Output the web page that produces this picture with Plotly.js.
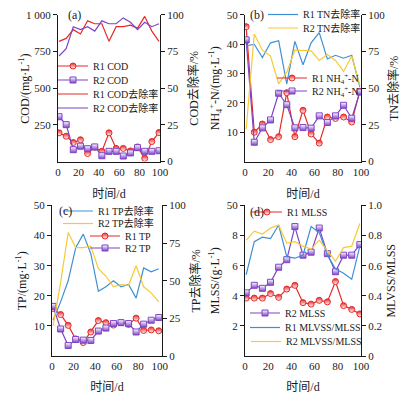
<!DOCTYPE html>
<html><head><meta charset="utf-8">
<script src="https://cdn.plot.ly/plotly-3.0.1.min.js"></script>
<style>html,body{margin:0;padding:0;background:#fff}#chart{width:415px;height:394px}</style>
</head><body><div id="chart"></div>
<script>
// ---- data ----
const days = [1, 8, 15, 22, 29, 36, 43, 50, 57, 64, 71, 78, 85, 92, 99];
// (a)
const r1Cod = [196, 173, 130, 149, 55, 98, 70, 196, 90, 90, 73, 100, 22, 137, 198];
const r2Cod = [306, 252, 81, 105, 88, 100, 40, 70, 70, 38, 59, 95, 70, 70, 74];
const r1CodRem = [82, 84, 90, 87, 96, 94, 94, 82, 92, 92, 93, 91, 99, 89, 82];
const r2CodRem = [72, 77, 92, 90, 92, 89, 96, 94, 94, 98, 95, 90, 95, 92, 94];
// (b)
const r1Nh4 = [46, 10, 12.8, 7.5, 8.5, 23.5, 8.5, 17.5, 9.4, 6.3, 15.2, 14.7, 15.2, 13.5, 24];
const r2Nh4 = [41.5, 6.6, 11.5, 14.2, 23.3, 19.4, 11.5, 11.6, 11.4, 15.6, 13.3, 15.6, 19.2, 14.8, 23.7];
const r1TnRem = [79, 80, 71, 81, 82.5, 53, 82, 66, 81, 88, 70, 72.5, 70.5, 72.5, 51];
const r2TnRem = [22, 87, 76, 72, 53, 61, 76, 76, 75.5, 69, 73, 69, 61.5, 72, 52];
// (c)
const r1Tp = [15.8, 13.8, 10.2, 5.7, 4.5, 8, 11.8, 11.1, 10.3, 11.1, 10.5, 12.6, 8.5, 8.7, 8.4];
const r2Tp = [16.5, 9, 3.5, 5.5, 5.3, 5.2, 8.3, 9.3, 10.8, 11.1, 10.8, 8, 10.6, 11.9, 12.8];
const r1TpRem = [24, 36, 50, 72, 81, 68, 43, 46, 50, 46, 47.5, 38.5, 58.5, 56, 58];
const r2TpRem = [20, 49, 82, 72, 72, 73, 58, 53, 46, 47.5, 47, 60, 46, 42, 36];
// (d)
const r1Mlss = [3.85, 3.85, 3.85, 4.15, 3.9, 4.45, 4.7, 3.55, 3.45, 3.7, 3.6, 4.95, 3.35, 3.1, 2.8];
const r2Mlss = [4.2, 4.7, 4.5, 4.9, 5.9, 6.4, 8.6, 6.7, 6.9, 8.5, 6.8, 5.6, 6.7, 6.7, 7.4];
const r1Ratio = [0.54, 0.76, 0.79, 0.78, 0.87, 0.66, 0.65, 0.67, 0.86, 0.82, 0.67, 0.58, 0.55, 0.51, 0.73];
const r2Ratio = [0.77, 0.83, 0.81, 0.85, 0.87, 0.75, 0.76, 0.73, 0.71, 0.77, 0.70, 0.63, 0.72, 0.73, 0.88];
// ticks
const xTicks = [0, 20, 40, 60, 80, 100];
const codTicks = [250, 500, 750, 1000];
const codTickText = ['250', '500', '750', '1 000'];
const pctTicks = [0, 25, 50, 75, 100];
const conc50Ticks = [10, 20, 30, 40, 50];
const mlssTicks = [2, 4, 6, 8, 10];
const mlssTickText = ['2', '4', '6', '8', '50'];
const ratioTicks = [0, 0.2, 0.4, 0.6, 0.8, 1.0];
const ratioTickText = ['0', '0.2', '0.4', '0.6', '0.8', '1.0'];

// ---- style ----
const W = 415, H = 394;
const FONT = "'Liberation Serif', 'Times New Roman', 'Noto Sans CJK SC', serif";
const RED = '#e62a2a', PURPLE = '#7e44c6', BLUE = '#3f8fd4', YELLOW = '#f7c935';
const INK = '#1a1a1a';

const m1 = {symbol: 'circle', size: 6, color: RED, gradient: {type: 'vertical', color: '#ffffff'}, line: {color: RED, width: 1}};
const m2 = {symbol: 'square', size: 6, color: '#ffffff', gradient: {type: 'vertical', color: PURPLE}, line: {color: PURPLE, width: 1}};

function ser(name, y, xa, ya, color, marker, leg) {
  const t = {type: 'scatter', x: days, y: y, name: name, xaxis: xa, yaxis: ya,
    mode: marker ? 'lines+markers' : 'lines', line: {color: color, width: 1.2},
    legend: leg, hoverinfo: 'skip'};
  if (marker) t.marker = marker;
  return t;
}

const traces = [
  ser('R1 COD去除率', r1CodRem, 'x', 'y2', RED, null, 'legend3'),
  ser('R2 COD去除率', r2CodRem, 'x', 'y2', PURPLE, null, 'legend4'),
  ser('R1 COD', r1Cod, 'x', 'y', RED, m1, 'legend'),
  ser('R2 COD', r2Cod, 'x', 'y', PURPLE, m2, 'legend2'),

  ser('R1 TN去除率', r1TnRem, 'x2', 'y4', BLUE, null, 'legend5'),
  ser('R2 TN去除率', r2TnRem, 'x2', 'y4', YELLOW, null, 'legend6'),
  ser('R1 NH<sub>4</sub><sup>+</sup>-N', r1Nh4, 'x2', 'y3', RED, m1, 'legend7'),
  ser('R2 NH<sub>4</sub><sup>+</sup>-N', r2Nh4, 'x2', 'y3', PURPLE, m2, 'legend8'),

  ser('R1 TP去除率', r1TpRem, 'x3', 'y6', BLUE, null, 'legend9'),
  ser('R2 TP去除率', r2TpRem, 'x3', 'y6', YELLOW, null, 'legend10'),
  ser('R1 TP', r1Tp, 'x3', 'y5', RED, m1, 'legend11'),
  ser('R2 TP', r2Tp, 'x3', 'y5', PURPLE, m2, 'legend12'),

  ser('R1 MLVSS/MLSS', r1Ratio, 'x4', 'y8', BLUE, null, 'legend15'),
  ser('R2 MLVSS/MLSS', r2Ratio, 'x4', 'y8', YELLOW, null, 'legend16'),
  ser('R1 MLSS', r1Mlss, 'x4', 'y7', RED, m1, 'legend13'),
  ser('R2 MLSS', r2Mlss, 'x4', 'y7', PURPLE, m2, 'legend14')
];

// ---- layout helpers ----
const tickFont = {family: FONT, size: 11, color: INK};
const titleFont = {family: FONT, size: 12, color: INK};
function px2x(p) { return p / W; }
function py2y(p) { return 1 - p / H; }

function xax(l, r, anchor, range) {
  return {domain: [px2x(l), px2x(r)], anchor: anchor, range: range, tickvals: xTicks,
    showline: true, linecolor: INK, linewidth: 1, ticks: '', showgrid: false, zeroline: false,
    tickfont: tickFont, title: {text: '时间/d', font: titleFont, standoff: 12}, fixedrange: true};
}
function yax(t, b, anchor, range, vals, text, title, standoff) {
  const a = {domain: [py2y(b), py2y(t)], anchor: anchor, range: range, tickvals: vals,
    showline: true, linecolor: INK, linewidth: 1, ticks: 'outside', ticklen: 4, tickwidth: 1, tickcolor: INK,
    showgrid: false, zeroline: false, tickfont: tickFont,
    title: {text: title, font: titleFont, standoff: standoff}, fixedrange: true};
  if (text) a.ticktext = text;
  return a;
}
function yaxR(over, anchor, range, vals, text, title, standoff) {
  const a = {overlaying: over, side: 'right', anchor: anchor, range: range, tickvals: vals,
    showline: true, linecolor: INK, linewidth: 1, ticks: 'outside', ticklen: 4, tickwidth: 1, tickcolor: INK,
    showgrid: false, zeroline: false, tickfont: tickFont,
    title: {text: title, font: titleFont, standoff: standoff}, fixedrange: true};
  if (text) a.ticktext = text;
  return a;
}
function lg(textX, rowY) {
  return {x: px2x(textX - 40), y: py2y(rowY), xanchor: 'left', yanchor: 'middle',
    bgcolor: 'rgba(0,0,0,0)', borderwidth: 0, font: {family: FONT, size: 10, color: INK},
    tracegroupgap: 0, itemclick: false, itemdoubleclick: false};
}
function lbl(text, xp, yp, angle) {
  const a = {text: text, xref: 'paper', yref: 'paper', x: px2x(xp), y: py2y(yp),
    xanchor: angle ? 'center' : 'left', yanchor: 'middle', showarrow: false, font: {family: FONT, size: 12, color: INK}};
  if (angle) a.textangle = angle;
  return a;
}

// panel pixel boxes
const A = {l: 58, r: 160, t: 14, b: 161};
const B = {l: 245, r: 361, t: 14, b: 161};
const C = {l: 52, r: 162, t: 205, b: 356};
const D = {l: 245, r: 361, t: 205, b: 356};

const layout = {
  width: W, height: H, margin: {l: 0, r: 0, t: 0, b: 0},
  paper_bgcolor: '#ffffff', plot_bgcolor: 'rgba(0,0,0,0)',
  font: {family: FONT, color: INK},
  showlegend: true,
  xaxis: xax(A.l, A.r, 'y', [0, 100]),
  yaxis: yax(A.t, A.b, 'x', [0, 1000], codTicks, codTickText, '', 4),
  yaxis2: yaxR('y', 'x', [0, 100], pctTicks, null, 'COD去除率/%', 6),
  xaxis2: xax(B.l, B.r, 'y3', [0, 100]),
  yaxis3: yax(B.t, B.b, 'x2', [0, 50], conc50Ticks, null, 'NH<sub>4</sub><sup>+</sup>-N/(mg·L<sup>-1</sup>)', 4),
  yaxis4: yaxR('y3', 'x2', [0, 100], pctTicks, null, 'TN去除率/%', 5),
  xaxis3: xax(C.l, C.r, 'y5', [0, 102]),
  yaxis5: yax(C.t, C.b, 'x3', [0, 50], conc50Ticks, null, 'TP/(mg·L<sup>-1</sup>)', 4),
  yaxis6: yaxR('y5', 'x3', [0, 100], pctTicks, null, 'TP去除率/%', 6),
  xaxis4: xax(D.l, D.r, 'y7', [0, 100]),
  yaxis7: yax(D.t, D.b, 'x4', [0, 10], mlssTicks, mlssTickText, 'MLSS/(g·L<sup>-1</sup>)', 4),
  yaxis8: yaxR('y7', 'x4', [0, 1], ratioTicks, ratioTickText, 'MLVSS/MLSS', 5),
  legend: lg(93, 66), legend2: lg(93, 80), legend3: lg(93, 94), legend4: lg(93, 108),
  legend5: lg(303, 14), legend6: lg(303, 28), legend7: lg(312, 78), legend8: lg(312, 91),
  legend9: lg(98, 211), legend10: lg(98, 223.5), legend11: lg(125, 236), legend12: lg(125, 248),
  legend13: lg(287, 212), legend14: lg(285, 313), legend15: lg(285, 327.5), legend16: lg(286, 341.5),
  annotations: [
    lbl('(a)', 66, 14), lbl('(b)', 248, 14), lbl('(c)', 57, 211), lbl('(d)', 248, 212),
    lbl('COD/(mg·L<sup>-1</sup>)', 25, 88, -90)
  ]
};

Plotly.newPlot('chart', traces, layout, {staticPlot: true, displayModeBar: false});
</script>
</body></html>
